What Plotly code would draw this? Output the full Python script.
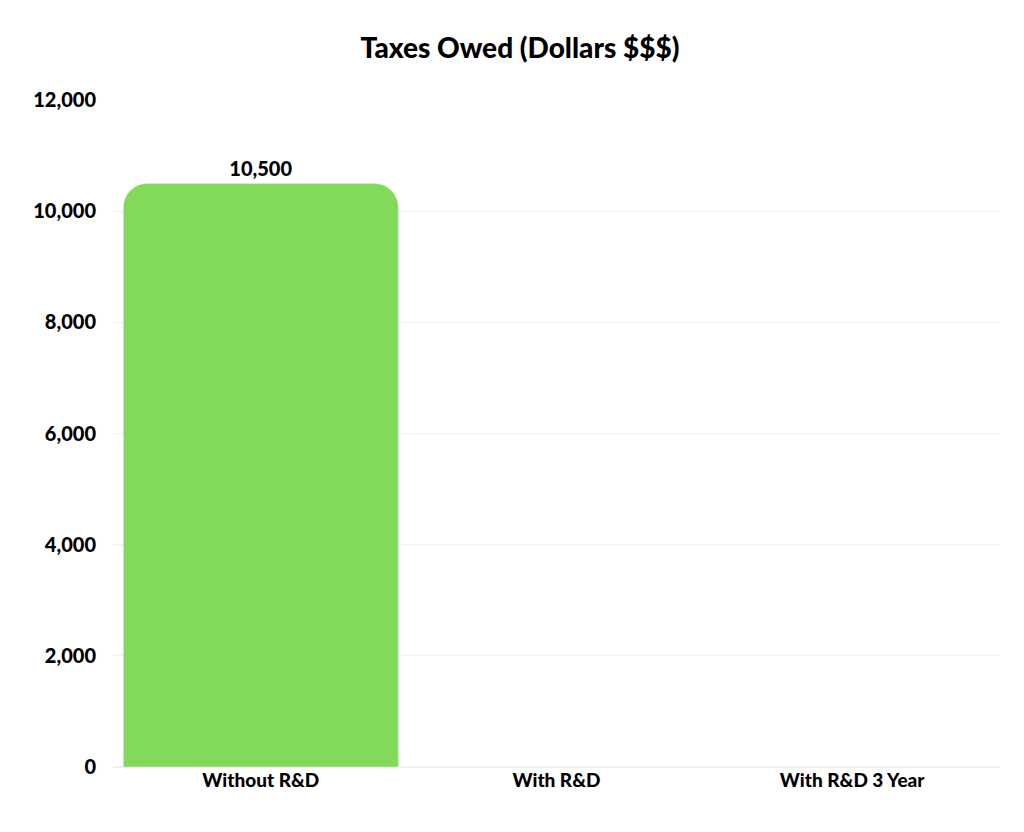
import plotly.graph_objects as go

categories = ["Without R&D", "With R&D", "With R&D 3 Year"]
taxes_owed = [10500, 0, 0]
bar_labels = ["10,500", "", ""]

fig = go.Figure()
fig.add_trace(
    go.Bar(
        x=categories,
        y=taxes_owed,
        text=bar_labels,
        textposition="outside",
        textfont=dict(family="Lato", size=20, color="#000000", weight=900),
        marker=dict(color="#82d95a"),
        cliponaxis=False,
    )
)
fig.update_layout(
    width=1024,
    height=832,
    paper_bgcolor="white",
    plot_bgcolor="white",
    bargap=0.07,
    barcornerradius=24,
    showlegend=False,
    title=dict(
        text="Taxes Owed (Dollars $$$)",
        x=0.5,
        y=0.963,
        xanchor="center",
        font=dict(family="Lato", size=28, color="#000000", weight=900),
    ),
    font=dict(family="Lato", size=19, color="#000000", weight=900),
    margin=dict(l=105, r=32, t=92, b=73),
    xaxis=dict(showgrid=False, showline=False, ticks="", tickfont=dict(size=19)),
    yaxis=dict(
        range=[0, 12000],
        dtick=2000,
        tickformat=",",
        gridcolor="#f0f0f0",
        zeroline=True,
        zerolinecolor="#f0f0f0",
        ticks="",
        ticklen=0,
        tickfont=dict(size=20),
    ),
)
fig.update_yaxes(ticklabelstandoff=16)

fig.write_html("out.html")
